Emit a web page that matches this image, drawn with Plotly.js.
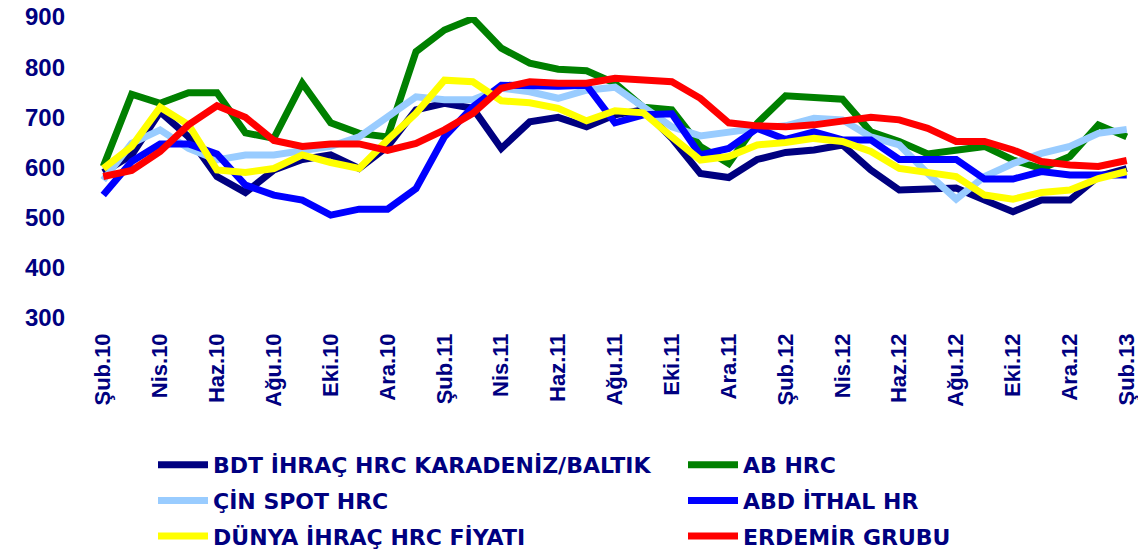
<!DOCTYPE html>
<html>
<head>
<meta charset="utf-8">
<script src="https://cdn.plot.ly/plotly-3.0.1.min.js"></script>
<style>
html,body{margin:0;padding:0;background:#fff;}
#chart{width:1138px;height:552px;}
</style>
</head>
<body>
<div id="chart"></div>
<script>
const months = [
  "Şub.10","Mar.10","Nis.10","May.10","Haz.10","Tem.10","Ağu.10","Eyl.10","Eki.10","Kas.10","Ara.10","Oca.11",
  "Şub.11","Mar.11","Nis.11","May.11","Haz.11","Tem.11","Ağu.11","Eyl.11","Eki.11","Kas.11","Ara.11","Oca.12",
  "Şub.12","Mar.12","Nis.12","May.12","Haz.12","Tem.12","Ağu.12","Eyl.12","Eki.12","Kas.12","Ara.12","Oca.13",
  "Şub.13"
];
const tickLabels = ["Şub.10","Nis.10","Haz.10","Ağu.10","Eki.10","Ara.10","Şub.11","Nis.11","Haz.11","Ağu.11",
  "Eki.11","Ara.11","Şub.12","Nis.12","Haz.12","Ağu.12","Eki.12","Ara.12","Şub.13"];

const bdt = [590,625,711,661,582,550,595,616,625,598,642,715,
             728,718,638,691,700,681,705,715,658,588,580,616,
             630,635,645,595,555,557,559,535,512,535,535,582,598];
const ab = [602,746,728,749,749,669,658,768,689,668,661,831,
            874,897,838,808,796,793,768,720,715,642,608,688,
            743,741,736,671,652,627,635,642,615,598,622,685,661];
const cin = [575,648,675,638,615,625,625,635,642,661,701,741,
             735,735,758,751,738,754,760,721,681,663,671,678,
             683,698,695,661,645,588,537,582,608,628,642,668,676];
const abd = [545,612,647,647,627,565,545,535,505,517,517,558,
             661,721,764,762,762,764,689,705,707,625,638,678,
             656,671,655,655,616,616,616,577,577,592,585,585,585];
const dunya = [598,642,720,685,595,590,598,625,610,598,655,708,
               774,771,733,729,718,693,713,709,661,615,622,645,
               650,658,652,632,598,590,582,545,537,550,555,578,592];
const erdemir = [582,594,632,685,723,700,654,642,647,647,634,648,
                 675,708,758,771,768,768,778,776,771,738,689,683,
                 681,685,691,700,695,678,652,652,635,612,605,602,614];

const seriesNames = ["BDT İHRAÇ HRC KARADENİZ/BALTIK","AB HRC","ÇİN SPOT HRC","ABD İTHAL HR","DÜNYA İHRAÇ HRC FİYATI","ERDEMİR GRUBU"];
const seriesData = [bdt, ab, cin, abd, dunya, erdemir];
const seriesColors = ["#000080","#008000","#99CCFF","#0000FF","#FFFF00","#FF0000"];

const traces = seriesData.map((vals, k) => ({
  type: "scatter",
  mode: "lines",
  x: months,
  y: vals,
  name: seriesNames[k],
  legend: (k % 2 === 0) ? "legend" : "legend2",
  legendgroup: "g" + k,
  line: {color: seriesColors[k], width: 7},
  hoverinfo: "x+y+name"
}));

const navy = "#000080";
const legendFont = {family: "DejaVu Sans, Arial, sans-serif", size: 22, color: navy, weight: "bold"};
const legendBase = {
  orientation: "v",
  xref: "container",
  yref: "container",
  y: 1 - 444/552,
  xanchor: "left",
  yanchor: "top",
  itemwidth: 50,
  traceorder: "grouped",
  tracegroupgap: 4,
  font: legendFont,
  bgcolor: "rgba(0,0,0,0)"
};
const layout = {
  width: 1138,
  height: 552,
  margin: {l: 99, r: 7, t: 17, b: 234, autoexpand: false},
  paper_bgcolor: "#ffffff",
  plot_bgcolor: "#ffffff",
  showlegend: true,
  xaxis: {
    type: "category",
    range: [-0.15, 36.15],
    tickmode: "array",
    tickvals: tickLabels,
    ticktext: tickLabels,
    tickangle: -90,
    showgrid: false,
    zeroline: false,
    showline: false,
    ticks: "",
    ticklabelstandoff: 10,
    tickfont: {family: "Liberation Sans Narrow, Arial Narrow, Arial, sans-serif", size: 22, color: navy, weight: "bold"}
  },
  yaxis: {
    range: [300, 900],
    tickvals: [300,400,500,600,700,800,900],
    showgrid: false,
    zeroline: false,
    showline: false,
    ticks: "",
    ticklabelstandoff: 33,
    tickfont: {family: "Arial, Liberation Sans, sans-serif", size: 24, color: navy, weight: "bold"}
  },
  legend: Object.assign({}, legendBase, {x: 153/1138}),
  legend2: Object.assign({}, legendBase, {x: 683/1138})
};

Plotly.newPlot("chart", traces, layout, {displayModeBar: false});
</script>
</body>
</html>
